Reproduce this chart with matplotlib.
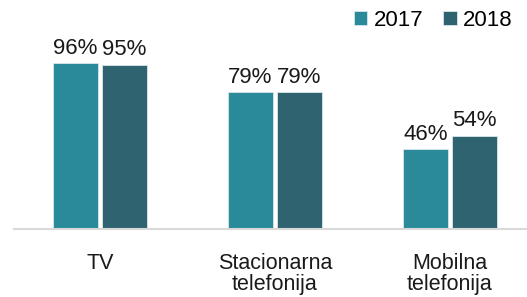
import numpy as np
import matplotlib.pyplot as plt

plt.rcParams['font.family'] = ['Liberation Sans', 'DejaVu Sans']

categories = ['TV', 'Stacionarna\ntelefonija', 'Mobilna\ntelefonija']
years = ['2017', '2018']
values_2017 = [96, 79, 46]
values_2018 = [95, 79, 54]
colors = ['#2a8a9a', '#2f6370']

W, H = 527, 297
fig = plt.figure(figsize=(W / 100, H / 100), dpi=100)
ax = fig.add_axes([14 / W, (H - 229) / H, 513 / W, 229 / H])

x = np.arange(len(categories))
bw = 0.26
gap = 0.01
b1 = ax.bar(x - bw / 2 - gap, values_2017, bw, color=colors[0], edgecolor='#d9e6ea', linewidth=0.6, label=years[0])
b2 = ax.bar(x + bw / 2 + gap, values_2018, bw, color=colors[1], edgecolor='#d9e6ea', linewidth=0.6, label=years[1])

for bars in (b1, b2):
    for r in bars:
        ax.text(r.get_x() + r.get_width() / 2, r.get_height() + 2.5, f'{r.get_height():.0f}%',
                ha='center', va='bottom', fontsize=16, color='#1a1a1a')

ax.set_xlim(-0.49, 2.44)
ax.set_ylim(0, 132.4)
ax.set_xticks(x)
ax.set_xticklabels(categories, fontsize=15.5, color='#1a1a1a', linespacing=1.0)
ax.tick_params(axis='x', length=0, pad=17)
ax.set_yticks([])
for s in ['top', 'right', 'left']:
    ax.spines[s].set_visible(False)
ax.spines['bottom'].set_color('#d9d9d9')
ax.spines['bottom'].set_linewidth(1.5)

ax.legend(loc='upper right', bbox_to_anchor=(0.99, 0.995), ncol=2, frameon=False, fontsize=16,
          handlelength=0.6, handleheight=0.6, handletextpad=0.3, columnspacing=0.9, borderaxespad=0)

fig.savefig('out.png', dpi=100)
